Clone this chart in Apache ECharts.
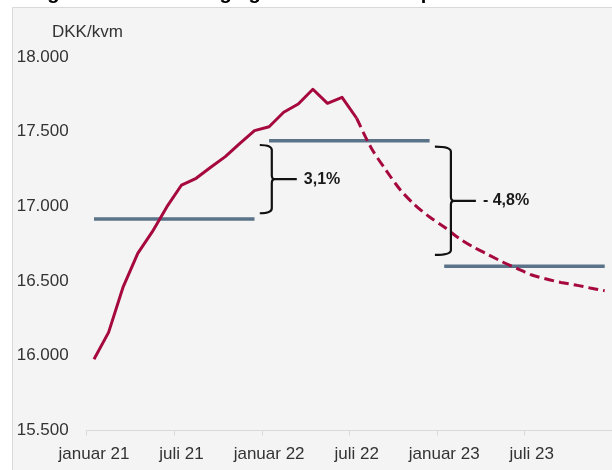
<!DOCTYPE html>
<html>
<head>
<meta charset="utf-8">
<script src="https://cdn.jsdelivr.net/npm/echarts@6/dist/echarts.min.js"></script>
<style>
html,body{margin:0;padding:0;background:#ffffff;}
#chart{width:612px;height:470px;}
</style>
</head>
<body>
<div id="chart"></div>
<script>
// ---- data ----
const months = [
  "januar 21","februar 21","marts 21","april 21","maj 21","juni 21",
  "juli 21","august 21","september 21","oktober 21","november 21","december 21",
  "januar 22","februar 22","marts 22","april 22","maj 22","juni 22",
  "juli 22","august 22","september 22","oktober 22","november 22","december 22",
  "januar 23","februar 23","marts 23","april 23","maj 23","juni 23",
  "juli 23","august 23","september 23","oktober 23","november 23","december 23"
];
// actual price (DKK/kvm), jan 21 - jul 22
const actual = [15977,16157,16462,16686,16831,16998,17143,17188,17262,17333,17422,17507,
                17533,17630,17685,17784,17690,17730,17590];
// forecast, jul 22 - dec 23
const forecast = [17590,17391,17244,17110,17009,16929,16862,16788,16728,16678,16628,16584,
                  16541,16514,16491,16474,16454,16436];
const forecastStart = 18;
// yearly averages 2021, 2022, 2023
const yearAvg = [16915,17440,16600];
// change annotations
const bracketAfter = [11, 23];          // bracket sits after this month index
const bracketTop = [17411, 17400];
const bracketBottom = [16954, 16675];
const bracketLabel = ["3,1%", "- 4,8%"];
const unitLabel = "DKK/kvm";
const titleText = "Prognose for udvikling i gns. kvadratmeterpris";

// ---- build series data ----
const actualData = months.map((m,i)=> i < actual.length ? actual[i] : null);
const forecastData = months.map((m,i)=> i >= forecastStart ? forecast[i-forecastStart] : null);
const avgSeries = yearAvg.map((v,k)=>({
  type:'line', symbol:'none', silent:true,
  data: months.map((m,i)=> Math.floor(i/12)===k ? v : null),
  lineStyle:{color:'#5a7388', width:3.5, cap:'butt'},
  z:2
}));
const bracketData = bracketAfter.map((x,i)=>[x, bracketTop[i], bracketBottom[i], bracketLabel[i]]);

function fmt(v){ return String(v).replace(/\B(?=(\d{3})+(?!\d))/g,'.'); }

const chart = echarts.init(document.getElementById('chart'), null, {renderer:'canvas'});
const FONT = '"Liberation Sans", Arial, sans-serif';

chart.setOption({
  animation:false,
  backgroundColor:'#ffffff',
  graphic:[
    {type:'rect', silent:true, z:-10, shape:{x:12.5,y:7.5,width:640,height:500},
     style:{fill:'#f4f4f4', stroke:'#d9d9d9', lineWidth:1}},
    {type:'text', silent:true, x:14, y:3,
     style:{text:titleText, font:'bold 20px '+FONT, fill:'#000', textVerticalAlign:'bottom'}},
    {type:'text', silent:true, x:52, y:32,
     style:{text:unitLabel, font:'17px '+FONT, fill:'#333', textVerticalAlign:'middle'}}
  ],
  grid:{left:86.7, right:-1.5, top:57, bottom:39.5, containLabel:false},
  xAxis:{
    type:'category', data:months, boundaryGap:true,
    axisLine:{show:true, lineStyle:{color:'#d9d9d9', width:1}},
    axisTick:{show:true, interval:5, length:5, lineStyle:{color:'#d9d9d9'}},
    axisLabel:{interval:5, color:'#333', fontSize:17, fontFamily:FONT, margin:15},
    splitLine:{show:false}
  },
  yAxis:{
    type:'value', min:15500, max:18000, interval:500,
    axisLine:{show:false}, axisTick:{show:false}, splitLine:{show:false},
    axisLabel:{color:'#333', fontSize:17, fontFamily:FONT, align:'left', margin:70, formatter:fmt}
  },
  series:[
    ...avgSeries,
    {type:'line', symbol:'none', data:actualData, z:3,
     lineStyle:{color:'#a6093d', width:3, join:'round'}},
    {type:'line', symbol:'none', data:forecastData, z:3, smooth:0.3,
     lineStyle:{color:'#a6093d', width:3, type:[10,5]}},
    {type:'custom', z:4, silent:true, data:bracketData,
     encode:{x:0, y:[1,2]},
     renderItem:function(params, api){
       const band = api.size([1,0])[0];
       const pTop = api.coord([api.value(0), api.value(1)]);
       const pBot = api.coord([api.value(0), api.value(2)]);
       const w = params.dataIndex === 0 ? 12 : 16;
       const x0 = pTop[0] + band/2 - 2;
       const x1 = x0 + w;
       const tip = x1 + 3;
       const yt = pTop[1], yb = pBot[1], ym = (yt+yb)/2;
       const r = 5;
       const d = `M${x0} ${yt} Q${x1} ${yt} ${x1} ${yt+r} L${x1} ${ym-4} Q${x1} ${ym} ${tip} ${ym} `+
                 `Q${x1} ${ym} ${x1} ${ym+4} L${x1} ${yb-r} Q${x1} ${yb} ${x0} ${yb} `+
                 `M${tip} ${ym} L${tip+22} ${ym}`;
       return {type:'group', children:[
         {type:'path', shape:{pathData:d}, style:{fill:'none', stroke:'#111', lineWidth:2.2}},
         {type:'text', x:tip+29, y:ym,
          style:{text:api.value(3), font:'bold 16px '+FONT, fill:'#1a1a1a', textVerticalAlign:'middle'}}
       ]};
     }}
  ]
});
</script>
</body>
</html>
